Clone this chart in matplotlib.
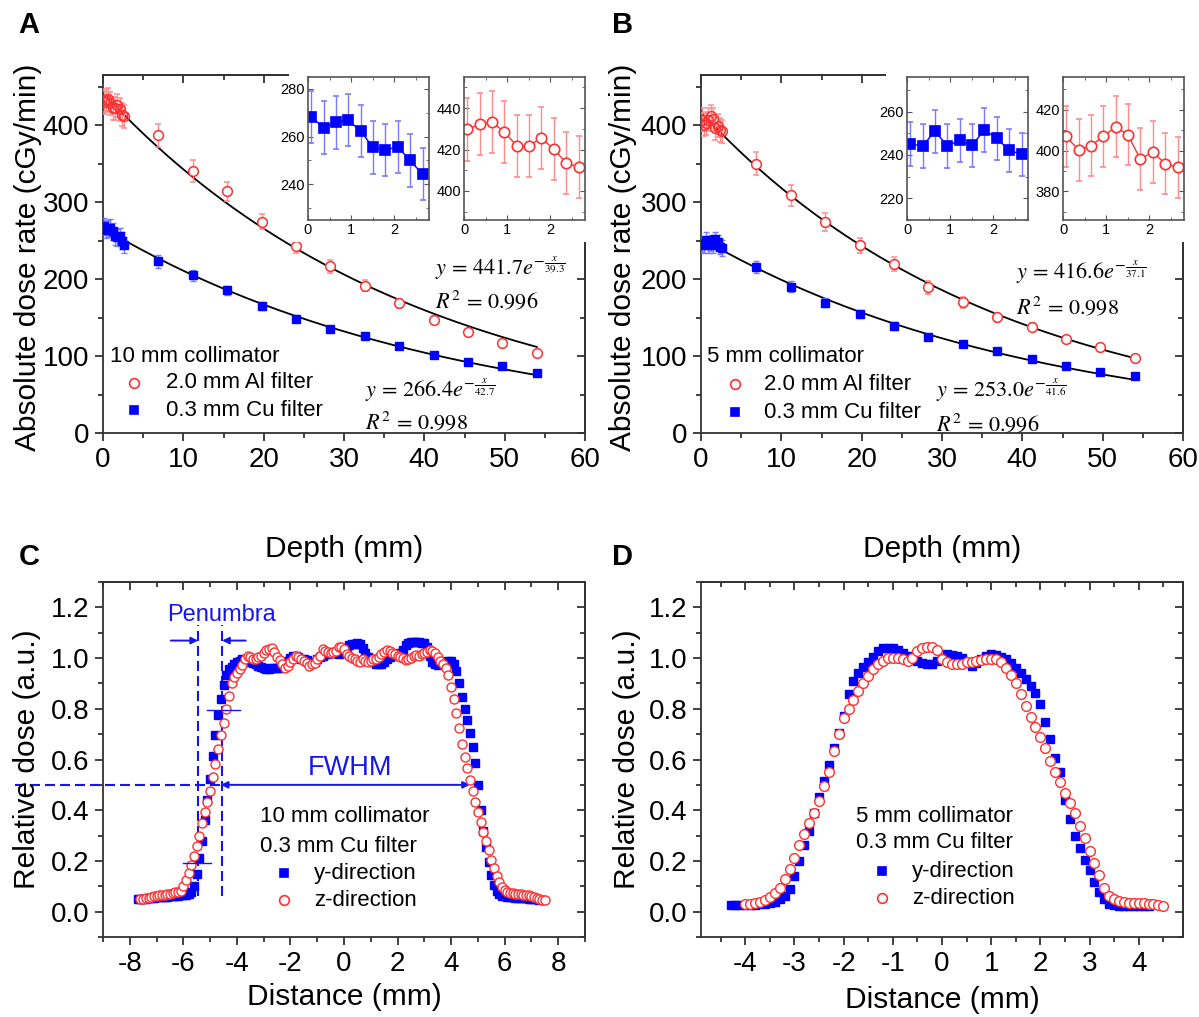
import numpy as np
import matplotlib
matplotlib.use('Agg')
import matplotlib.pyplot as plt
from matplotlib.lines import Line2D
from matplotlib.patches import Rectangle

plt.rcParams['font.family'] = ['Liberation Sans', 'DejaVu Sans']
plt.rcParams['mathtext.fontset'] = 'stix'
plt.rcParams['axes.unicode_minus'] = False

W, H = 1199, 1017

# ---------------- depth dose data (panels A, B) ----------------
depth = [6.9, 11.2, 15.4, 19.8, 24.0, 28.3, 32.6, 36.9, 41.2, 45.4, 49.7, 54.0]
shallow = [0.07, 0.36, 0.65, 0.93, 1.22, 1.50, 1.79, 2.08, 2.36, 2.65]

a_al = [387, 340.5, 313.8, 274.6, 243.1, 216.4, 191.4, 168.5, 147.0, 131.5, 116.8, 103.4]
a_cu = [222.8, 204.7, 185.3, 165.0, 148.7, 135.0, 126.3, 113.4, 101.7, 92.7, 87.0, 78.4]
a_al_shallow = [429.7, 432.2, 433.3, 428.4, 421.9, 421.9, 425.5, 420.2, 413.6, 411.4]
a_cu_shallow = [268.3, 263.8, 266.0, 266.9, 262.3, 255.5, 254.4, 255.7, 250.0, 244.2]

b_al = [349.5, 308.5, 274.0, 243.8, 220.0, 189.0, 170.0, 150.2, 138.0, 122.5, 111.3, 98.0]
b_cu = [215.7, 189.8, 169.1, 154.5, 139.0, 125.1, 115.2, 106.6, 96.2, 87.2, 79.4, 73.4]
b_al_shallow = [406.9, 400.3, 402.4, 406.9, 411.6, 407.7, 395.8, 399.3, 393.6, 391.8]
b_cu_shallow = [245.1, 244.2, 251.0, 244.2, 246.8, 244.4, 251.5, 247.7, 242.2, 240.3]

al_err = [15, 14, 12, 10, 9, 8, 7, 6, 5, 4, 4, 3]
cu_err = [8, 7, 6, 5, 5, 4, 4, 3, 3, 3, 3, 3]
al_err_shallow = [15] * 10
cu_err_shallow = [11] * 10
b_cu_err_shallow = [10] * 10

# fitted y = a * exp(-x / t)
fit_a = {'al': (441.7, 39.3), 'cu': (266.4, 42.7)}
fit_b = {'al': (416.6, 37.1), 'cu': (253.0, 41.6)}
fit_r2_a = {'al': 0.996, 'cu': 0.998}
fit_r2_b = {'al': 0.998, 'cu': 0.996}
fit_end = 54.0

# ---------------- beam profiles (panels C, D), 0.1 mm steps ----------------
c_z_start = -7.6
c_z = [
    0.049, 0.051, 0.053, 0.055, 0.057, 0.060, 0.062, 0.064, 0.066, 0.067,
    0.068, 0.070, 0.074, 0.076, 0.079, 0.083, 0.100, 0.125, 0.152, 0.183,
    0.220, 0.260, 0.300, 0.348, 0.393, 0.433, 0.476, 0.530, 0.582, 0.640,
    0.695, 0.745, 0.800, 0.850, 0.900, 0.927, 0.942, 0.955, 0.972, 0.995,
    1.008, 1.006, 0.998, 0.997, 1.003, 1.010, 1.021, 1.030, 1.036, 1.040,
    1.025, 1.005, 0.992, 0.975, 0.960, 0.968, 0.984, 0.998, 1.009, 1.006,
    0.998, 0.990, 0.982, 0.970, 0.975, 0.980, 0.995, 1.010, 1.035, 1.028,
    1.022, 1.020, 1.022, 1.028, 1.045, 1.045, 1.035, 1.015, 1.010, 1.002,
    0.995, 0.990, 0.985, 0.995, 0.990, 0.985, 0.990, 0.995, 0.998, 1.005,
    1.015, 1.025, 1.030, 1.028, 1.020, 1.015, 1.010, 1.005, 1.000, 0.992,
    0.995, 1.000, 1.008, 1.012, 1.010, 1.015, 1.020, 1.025, 1.030, 1.028,
    1.020, 1.005, 0.990, 0.975, 0.960, 0.935, 0.885, 0.840, 0.785, 0.725,
    0.660, 0.610, 0.565, 0.520, 0.475, 0.432, 0.393, 0.352, 0.315, 0.280,
    0.243, 0.205, 0.172, 0.142, 0.118, 0.098, 0.085, 0.079, 0.075, 0.072,
    0.070, 0.069, 0.068, 0.067, 0.066, 0.064, 0.062, 0.059, 0.055, 0.050,
    0.047, 0.045]
c_y_start = -7.7
c_y = [
    0.048, 0.049, 0.050, 0.051, 0.052, 0.053, 0.055, 0.056, 0.057, 0.058,
    0.058, 0.059, 0.060, 0.061, 0.062, 0.063, 0.064, 0.065, 0.067, 0.070,
    0.076, 0.100, 0.150, 0.212, 0.280, 0.360, 0.440, 0.525, 0.615, 0.695,
    0.775, 0.840, 0.895, 0.935, 0.955, 0.965, 0.975, 0.985, 0.990, 0.995,
    0.996, 0.990, 0.985, 0.980, 0.975, 0.970, 0.965, 0.960, 0.958, 0.958,
    0.960, 0.962, 0.962, 0.962, 0.965, 0.975, 0.990, 1.000, 1.008, 1.010,
    1.005, 0.998, 0.995, 0.992, 0.985, 0.980, 0.985, 0.995, 1.005, 1.010,
    1.015, 1.018, 1.020, 1.022, 1.020, 1.018, 1.020, 1.025, 1.040, 1.050,
    1.055, 1.055, 1.060, 1.055, 1.040, 1.020, 1.005, 0.995, 0.985, 0.978,
    0.975, 0.978, 0.985, 0.995, 1.005, 1.010, 1.012, 1.015, 1.020, 1.030,
    1.050, 1.060, 1.065, 1.065, 1.065, 1.062, 1.060, 1.060, 1.045, 1.010,
    0.985, 0.975, 0.972, 0.975, 0.980, 0.985, 0.990, 0.990, 0.975, 0.950,
    0.900, 0.845, 0.800, 0.755, 0.705, 0.650, 0.585, 0.500, 0.400, 0.320,
    0.255, 0.195, 0.145, 0.105, 0.080, 0.068, 0.062, 0.060, 0.058, 0.057,
    0.056, 0.055, 0.055, 0.054, 0.053, 0.052, 0.051, 0.050, 0.049, 0.048,
    0.046, 0.045]

d_z_start = -4.0
d_z = [
    0.030, 0.031, 0.033, 0.037, 0.045, 0.056, 0.072, 0.095, 0.128, 0.168,
    0.213, 0.262, 0.308, 0.348, 0.390, 0.435, 0.495, 0.552, 0.635, 0.700,
    0.762, 0.800, 0.835, 0.870, 0.900, 0.930, 0.955, 0.975, 0.990, 1.000,
    1.002, 1.000, 0.997, 0.990, 1.000, 1.028, 1.038, 1.042, 1.042, 1.030,
    0.995, 0.983, 0.975, 0.975, 0.978, 0.983, 0.986, 0.990, 0.992, 0.995,
    0.997, 0.995, 0.985, 0.962, 0.935, 0.900, 0.860, 0.810, 0.767, 0.730,
    0.687, 0.645, 0.595, 0.552, 0.510, 0.466, 0.428, 0.390, 0.337, 0.290,
    0.238, 0.190, 0.145, 0.095, 0.062, 0.048, 0.041, 0.037, 0.036, 0.036,
    0.036, 0.034, 0.032, 0.030, 0.027, 0.024]
d_y_start = -4.3
d_y = [
    0.028, 0.028, 0.028, 0.028, 0.028, 0.028, 0.029, 0.030, 0.033, 0.038,
    0.048, 0.062, 0.090, 0.140, 0.200, 0.262, 0.320, 0.390, 0.453, 0.515,
    0.578, 0.645, 0.705, 0.770, 0.860, 0.910, 0.942, 0.966, 0.985, 1.006,
    1.028, 1.038, 1.040, 1.040, 1.032, 1.020, 1.008, 0.998, 0.988, 0.980,
    0.975, 0.978, 0.988, 1.000, 1.015, 1.012, 1.008, 1.000, 0.980, 0.970,
    0.982, 0.995, 1.010, 1.016, 1.012, 1.005, 0.998, 0.980, 0.960, 0.942,
    0.918, 0.890, 0.862, 0.818, 0.747, 0.680, 0.605, 0.550, 0.440, 0.365,
    0.300, 0.252, 0.205, 0.165, 0.115, 0.076, 0.048, 0.032, 0.027, 0.024,
    0.023, 0.023, 0.023, 0.023, 0.023, 0.023]
step = 0.1

RED = '#ff3030'
RED_E = '#ff8c8c'
BLUE = '#0000ff'
BLUE_E = '#7a7aff'
ANN = '#1515f0'
SPINE = '#333333'

fig = plt.figure(figsize=(W / 100, H / 100), dpi=100)


def axes_px(l, t, r, b):
    return fig.add_axes([l / W, 1 - b / H, (r - l) / W, (b - t) / H])


def fx(x):
    return x / W


def fy(y):
    return 1 - y / H


def frame(ax, xmaj, xmin, ymaj, ymin, size=20, lw=1.3):
    ax.set_xticks(xmaj)
    ax.set_xticks(xmin, minor=True)
    ax.set_yticks(ymaj)
    ax.set_yticks(ymin, minor=True)
    for s in ax.spines.values():
        s.set_linewidth(lw)
        s.set_color(SPINE)
    ax.tick_params(which='both', direction='out', color=SPINE, width=lw, labelsize=size)
    ax.tick_params(which='major', length=6, pad=4)
    ax.tick_params(which='minor', length=3.5)
    top = ax.secondary_xaxis('top')
    top.set_xticks(xmaj)
    top.set_xticks(xmin, minor=True)
    right = ax.secondary_yaxis('right')
    right.set_yticks(ymaj)
    right.set_yticks(ymin, minor=True)
    for sec in (top, right):
        sec.tick_params(which='both', direction='in', color=SPINE, width=lw,
                        labeltop=False, labelright=False)
        sec.tick_params(which='major', length=6)
        sec.tick_params(which='minor', length=3.5)
        for s in sec.spines.values():
            s.set_linewidth(lw)
            s.set_color(SPINE)


def key(x, y, marker, face, edge, ms):
    fig.add_artist(Line2D([fx(x)], [fy(y)], marker=marker, ms=ms, mfc=face, mec=edge,
                          mew=1.2, ls='none', transform=fig.transFigure))


def depth_panel(l, r, al, cu, al_s, cu_s, cu_es, fits):
    ax = axes_px(l, 75, r, 433)
    xs = np.linspace(0, fit_end, 200)
    for k in ('al', 'cu'):
        a, t = fits[k]
        ax.plot(xs, a * np.exp(-xs / t), color='black', lw=1.3, zorder=2)
    ax.errorbar(shallow, cu_s, yerr=cu_es, fmt='s', ms=5.8, mfc=BLUE, mec=BLUE,
                ecolor=BLUE_E, elinewidth=1, capsize=2.5, zorder=3)
    ax.errorbar(depth, cu, yerr=cu_err, fmt='s', ms=5.8, mfc=BLUE, mec=BLUE,
                ecolor=BLUE_E, elinewidth=1, capsize=2.5, zorder=3)
    ax.errorbar(shallow, al_s, yerr=al_err_shallow, fmt='o', ms=7, mfc='none', mec=RED,
                mew=1.1, ecolor=RED_E, elinewidth=1, capsize=2.5, zorder=3)
    ax.errorbar(depth, al, yerr=al_err, fmt='o', ms=7, mfc='white', mec=RED, mew=1.1,
                ecolor=RED_E, elinewidth=1, capsize=2.5, zorder=3)
    ax.set_xlim(0, 60)
    ax.set_ylim(0, 465)
    frame(ax, np.arange(0, 61, 10), np.arange(0, 61, 5),
          np.arange(0, 401, 100), np.arange(0, 451, 50))
    return ax


def inset(l, r, ys, err, ylim, ymaj, ymin, color, ecolor, marker, ms):
    ax = axes_px(l, 77, r, 220)
    ax.set_zorder(3)
    ax.errorbar(shallow, ys, yerr=err, fmt='-' + marker, color=color, lw=1, ms=ms,
                mfc=color if marker == 's' else 'white', mec=color, mew=1.2,
                ecolor=ecolor, elinewidth=1, capsize=2)
    ax.set_xlim(0, 2.8)
    ax.set_ylim(*ylim)
    ax.set_xticks([0, 1, 2])
    ax.set_xticks(np.arange(0, 2.8, 0.5), minor=True)
    ax.set_yticks(ymaj)
    ax.set_yticks(ymin, minor=True)
    for s in ax.spines.values():
        s.set_linewidth(1.2)
        s.set_color('#555555')
    ax.tick_params(which='both', direction='in', top=True, right=True, color='#555555',
                   labelsize=10.5, pad=2)
    ax.tick_params(which='major', length=3.5)
    ax.tick_params(which='minor', length=2)
    return ax


# ---------------- panel A ----------------
axA = depth_panel(103, 585, a_al, a_cu, a_al_shallow, a_cu_shallow, cu_err_shallow, fit_a)
fig.add_artist(Rectangle((fx(289), fy(242)), fx(600 - 289), (242 - 68) / H,
                         transform=fig.transFigure, facecolor='white', edgecolor='none', zorder=1))
inset(308, 429, a_cu_shallow, cu_err_shallow, (225, 285), [240, 260, 280],
      np.arange(230, 285, 10), BLUE, BLUE_E, 's', 6.5)
inset(464, 585, a_al_shallow, al_err_shallow, (386, 455), [400, 420, 440],
      np.arange(390, 455, 10), RED, RED_E, 'o', 7.5)

# ---------------- panel B ----------------
axB = depth_panel(701, 1183, b_al, b_cu, b_al_shallow, b_cu_shallow, b_cu_err_shallow, fit_b)
fig.add_artist(Rectangle((fx(886), fy(242)), fx(1199 - 886), (242 - 68) / H,
                         transform=fig.transFigure, facecolor='white', edgecolor='none', zorder=1))
inset(907, 1028, b_cu_shallow, b_cu_err_shallow, (215, 276), [220, 240, 260],
      np.arange(210, 276, 10), BLUE, BLUE_E, 's', 6.5)
inset(1063, 1184, b_al_shallow, al_err_shallow, (366, 436), [380, 400, 420],
      np.arange(370, 436, 10), RED, RED_E, 'o', 7.5)

# text for A and B
eq_fs = 16
for (x0, ya, yb, xb, yc, yd, fits, r2) in [
        (435, 268, 302, 365, 390, 423, fit_a, fit_r2_a),
        (1016, 272, 308, 936, 390, 425, fit_b, fit_r2_b)]:
    fig.text(fx(x0), fy(ya), r'$y\,=\,%.1fe^{-\frac{x}{%.1f}}$' % fits['al'], fontsize=eq_fs, va='center')
    fig.text(fx(x0), fy(yb), r'$R^2\,=\,%.3f$' % r2['al'], fontsize=eq_fs, va='center')
    fig.text(fx(xb), fy(yc), r'$y\,=\,%.1fe^{-\frac{x}{%.1f}}$' % fits['cu'], fontsize=eq_fs, va='center')
    fig.text(fx(xb), fy(yd), r'$R^2\,=\,%.3f$' % r2['cu'], fontsize=eq_fs, va='center')

leg_fs = 16
fig.text(fx(110), fy(356), '10 mm collimator', fontsize=leg_fs, va='center')
key(134, 383, 'o', 'white', RED, 7)
fig.text(fx(166), fy(383), '2.0 mm Al filter', fontsize=leg_fs, va='center')
key(134, 410, 's', BLUE, BLUE, 6)
fig.text(fx(166), fy(410), '0.3 mm Cu filter', fontsize=leg_fs, va='center')

fig.text(fx(707), fy(356), '5 mm collimator', fontsize=leg_fs, va='center')
key(735, 384, 'o', 'white', RED, 7)
fig.text(fx(764), fy(384), '2.0 mm Al filter', fontsize=leg_fs, va='center')
key(735, 412, 's', BLUE, BLUE, 6)
fig.text(fx(764), fy(412), '0.3 mm Cu filter', fontsize=leg_fs, va='center')

for x, y, t in [(28, 257, 'Absolute dose rate (cGy/min)'), (623, 257, 'Absolute dose rate (cGy/min)'),
                (27, 759, 'Relative dose (a.u.)'), (627, 759, 'Relative dose (a.u.)')]:
    fig.text(fx(x), fy(y), t, rotation=90, ha='center', va='center', fontsize=21.5)
for x, y, t in [(344, 549, 'Depth (mm)'), (942, 549, 'Depth (mm)'),
                (344, 997, 'Distance (mm)'), (942, 1000, 'Distance (mm)')]:
    fig.text(fx(x), fy(y), t, ha='center', va='center', fontsize=21.5)
for x, y, t in [(29, 25, 'A'), (623, 25, 'B'), (29, 557, 'C'), (623, 557, 'D')]:
    fig.text(fx(x), fy(y), t, ha='center', va='center', fontsize=21, fontweight='bold')


# ---------------- panels C and D ----------------
def profile_panel(l, r, xlim, xmaj, xmin, ys_y, y_start, ys_z, z_start, ms_c, ms_s):
    ax = axes_px(l, 582, r, 937)
    xy = y_start + step * np.arange(len(ys_y))
    xz = z_start + step * np.arange(len(ys_z))
    ax.plot(xy, ys_y, 's', ms=ms_s, color=BLUE, mec=BLUE, zorder=3)
    ax.plot(xz, ys_z, 'o', ms=ms_c, mfc='white', mec=RED, mew=1.0, zorder=4)
    ax.set_xlim(*xlim)
    ax.set_ylim(-0.1, 1.3)
    frame(ax, xmaj, xmin, np.arange(0, 1.21, 0.2), np.arange(-0.1, 1.31, 0.1))
    ax.yaxis.set_major_formatter(matplotlib.ticker.FormatStrFormatter('%.1f'))
    ax.xaxis.set_major_formatter(matplotlib.ticker.FormatStrFormatter('%d'))
    return ax


axC = profile_panel(103, 585, (-9, 9), np.arange(-8, 9, 2), np.arange(-9, 10, 1),
                    c_y, c_y_start, c_z, c_z_start, 6.5, 5.8)
axD = profile_panel(701, 1183, (-4.9, 4.9), np.arange(-4, 5, 1), np.arange(-4.5, 4.9, 0.5),
                    d_y, d_y_start, d_z, d_z_start, 7, 5.8)

# annotations in C
pen_left, pen_right = -5.45, -4.55
dash = (0, (4.8, 2.4))
for xv in (pen_left, pen_right):
    axC.plot([xv, xv], [0.06, 1.13], color=ANN, lw=1.5, ls=dash, zorder=2)
axC.plot([-12.3, -4.6], [0.5, 0.5], color=ANN, lw=1.5, ls=dash, zorder=2, clip_on=False)
axC.plot([-5.1, -3.9], [0.797, 0.797], color=ANN, lw=1, zorder=5)
axC.plot([-6.03, -4.95], [0.192, 0.192], color=ANN, lw=1, zorder=5)
arrow = dict(arrowstyle='-|>', color=ANN, lw=1.4, mutation_scale=10, shrinkA=0, shrinkB=0)
axC.annotate('', xy=(pen_left, 1.069), xytext=(-6.47, 1.069), arrowprops=arrow)
axC.annotate('', xy=(pen_right, 1.069), xytext=(-3.67, 1.069), arrowprops=arrow)
axC.annotate('', xy=(-4.6, 0.5), xytext=(4.7, 0.5),
             arrowprops=dict(arrowstyle='<|-|>', color=ANN, lw=1.4, mutation_scale=10,
                             shrinkA=0, shrinkB=0), zorder=2)
fig.text(fx(221), fy(615), 'Penumbra', color=ANN, fontsize=17, ha='center', va='center')
fig.text(fx(350), fy(768), 'FWHM', color=ANN, fontsize=19.5, ha='center', va='center')

fig.text(fx(260), fy(817), '10 mm collimator', fontsize=leg_fs, va='center')
fig.text(fx(260), fy(846), '0.3 mm Cu filter', fontsize=leg_fs, va='center')
key(284, 873, 's', BLUE, BLUE, 6)
fig.text(fx(314), fy(873), 'y-direction', fontsize=leg_fs, va='center')
key(284, 900, 'o', 'white', RED, 7)
fig.text(fx(314), fy(900), 'z-direction', fontsize=leg_fs, va='center')

fig.text(fx(856), fy(816), '5 mm collimator', fontsize=leg_fs, va='center')
fig.text(fx(856), fy(843), '0.3 mm Cu filter', fontsize=leg_fs, va='center')
key(882, 871, 's', BLUE, BLUE, 6)
fig.text(fx(912), fy(871), 'y-direction', fontsize=leg_fs, va='center')
key(882, 898, 'o', 'white', RED, 7)
fig.text(fx(912), fy(898), 'z-direction', fontsize=leg_fs, va='center')

fig.savefig('out.png', dpi=100)
